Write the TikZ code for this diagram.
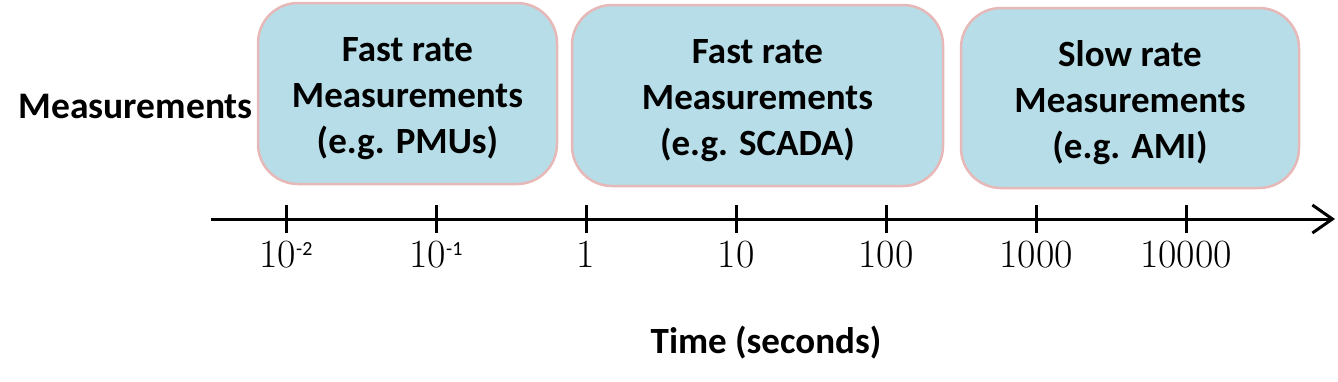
\documentclass[tikz,border=0pt]{standalone}
\usepackage{fontspec}
\setsansfont{Carlito}
\usepackage{tikz}
\usetikzlibrary{arrows.meta}
\definecolor{boxfill}{HTML}{B7DEE8}
\definecolor{boxedge}{HTML}{E6B9B8}
\tikzstyle{every picture}+=[remember picture]
\tikzstyle{ratebox}=[draw=boxedge, line width=2.5pt, fill=boxfill, rounded corners=40pt, align=center, inner sep=0pt, font=\sffamily\bfseries\fontsize{37}{46}\selectfont]
\tikzstyle{ticklabel}=[anchor=base, inner sep=0pt, font=\fontsize{40}{40}\selectfont]
\newcommand{\sexp}[1]{\raisebox{12pt}{\sffamily\fontsize{20}{20}\selectfont #1}}
\newcommand{\boxtop}{\rule{0pt}{35pt}}

\begin{document}
\begin{tikzpicture}[x=1pt,y=-1pt]
\useasboundingbox (0,0) rectangle (1338,381);
\node[ratebox, minimum width=299pt, minimum height=181pt] (pmu) at (407.5,93.5) {\boxtop Fast rate\\Measurements\\(e.g. PMUs)};
\node[ratebox, minimum width=371pt, minimum height=181pt] (scada) at (757.5,95.5) {\boxtop Fast rate\\Measurements\\(e.g. SCADA)};
\node[ratebox, minimum width=338pt, minimum height=180pt] (ami) at (1130,98) {\boxtop Slow rate\\Measurements\\(e.g. AMI)};
\node[anchor=base east, inner sep=0pt, font=\sffamily\bfseries\fontsize{37.5}{46}\selectfont] (meas) at (253,118) {Measurements};
\coordinate (tstart) at (211,219);
\coordinate (tend) at (1335,219);
\draw[line width=3pt, -{Straight Barb[length=20pt,width=28pt]}] (tstart) -- (tend);
\foreach \x/\t [count=\i] in {286/10\sexp{-2}, 436/10\sexp{-1}, 586/1, 736/10, 886/100, 1036/1000, 1186/10000}
{
\draw[line width=3pt] (\x,205) -- (\x,233);
\node[ticklabel] (tick\i) at (\x,267) {\t};
}
\node[anchor=base, inner sep=0pt, font=\sffamily\bfseries\fontsize{37}{37}\selectfont] (time) at (766,353) {Time (seconds)};
\end{tikzpicture}
\end{document}
